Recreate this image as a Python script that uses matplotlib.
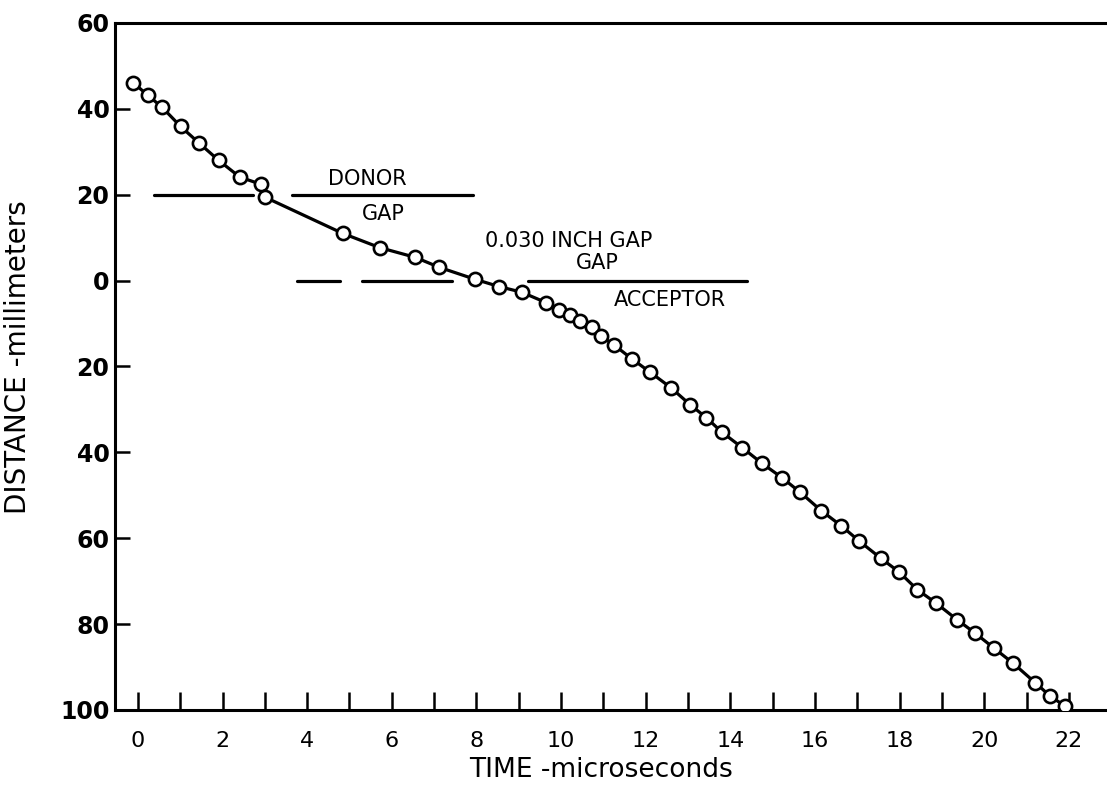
import matplotlib.pyplot as plt

# time (microseconds) and distance (mm) of the plotted points
t_us = [-0.11, 0.23, 0.57, 1.01, 1.45, 1.91, 2.41, 2.92, 3.01, 4.84,
        5.71, 6.56, 7.12, 7.97, 8.54, 9.07, 9.64, 9.96, 10.20, 10.44,
        10.73, 10.94, 11.24, 11.67, 12.10, 12.59, 13.05, 13.43, 13.80, 14.28,
        14.74, 15.22, 15.65, 16.15, 16.62, 17.05, 17.56, 17.98, 18.42, 18.86,
        19.36, 19.77, 20.23, 20.68, 21.21, 21.56, 21.91]
dist_mm = [46.1, 43.2, 40.4, 35.9, 32.0, 28.0, 24.1, 22.4, 19.4, 11.0,
           7.7, 5.4, 3.1, 0.3, -1.4, -2.7, -5.1, -6.9, -8.1, -9.4,
           -10.9, -12.9, -14.9, -18.2, -21.3, -24.9, -28.9, -31.9, -35.3, -38.9,
           -42.5, -45.9, -49.3, -53.6, -57.1, -60.7, -64.7, -67.8, -72.0, -75.1,
           -79.0, -82.0, -85.6, -89.1, -93.7, -96.8, -99.1]

# boundary lines: (level mm, start us, end us)
bounds = [(20, 0.38, 2.72), (20, 3.64, 7.92),
          (0, 3.76, 4.78), (0, 5.30, 7.42), (0, 9.22, 14.4)]

# labels: (text, x us, y mm)
notes = [("DONOR", 5.41, 23.6), ("GAP", 5.79, 15.4),
         ("0.030 INCH GAP", 10.17, 9.3), ("GAP", 10.85, 4.2),
         ("ACCEPTOR", 12.58, -4.4)]

x_ticks = list(range(0, 23, 2))
x_minor = list(range(1, 23, 2))
y_ticks = [60, 40, 20, 0, -20, -40, -60, -80, -100]

fig = plt.figure(figsize=(11.07, 7.9), dpi=100)
ax = fig.add_axes([0.1039, 0.1013, 0.8961, 0.8696])

for lvl, a, b in bounds:
    ax.plot([a, b], [lvl, lvl], color='black', lw=2.3, solid_capstyle='round')

ax.plot(t_us, dist_mm, '-o', color='black', lw=2.3, ms=9.5,
        mfc='white', mec='black', mew=1.9, zorder=3)

for txt, x, y in notes:
    ax.text(x, y, txt, ha='center', va='center', fontsize=15)

ax.set_xlim(-0.54, 22.9)
ax.set_ylim(-100, 60)

ax.set_xticks(x_ticks)
ax.set_xticks(x_minor, minor=True)
ax.set_xticklabels([str(v) for v in x_ticks], fontsize=16)
ax.set_yticks(y_ticks)
ax.set_yticklabels([str(abs(v)) for v in y_ticks], fontsize=17, fontweight='bold')

ax.tick_params(axis='x', which='both', direction='in', length=13, width=1.8, pad=15)
ax.tick_params(axis='y', direction='in', length=11, width=1.8, pad=4)

for s in ['left', 'bottom', 'top']:
    ax.spines[s].set_linewidth(2.2)
ax.spines['right'].set_visible(False)

ax.set_xlabel("TIME -microseconds", fontsize=19)
ax.set_ylabel("DISTANCE -millimeters", fontsize=20)
ax.xaxis.set_label_coords(0.49, -0.068)
ax.yaxis.set_label_coords(-0.084, 0.514)

fig.savefig("out.png", dpi=100)
